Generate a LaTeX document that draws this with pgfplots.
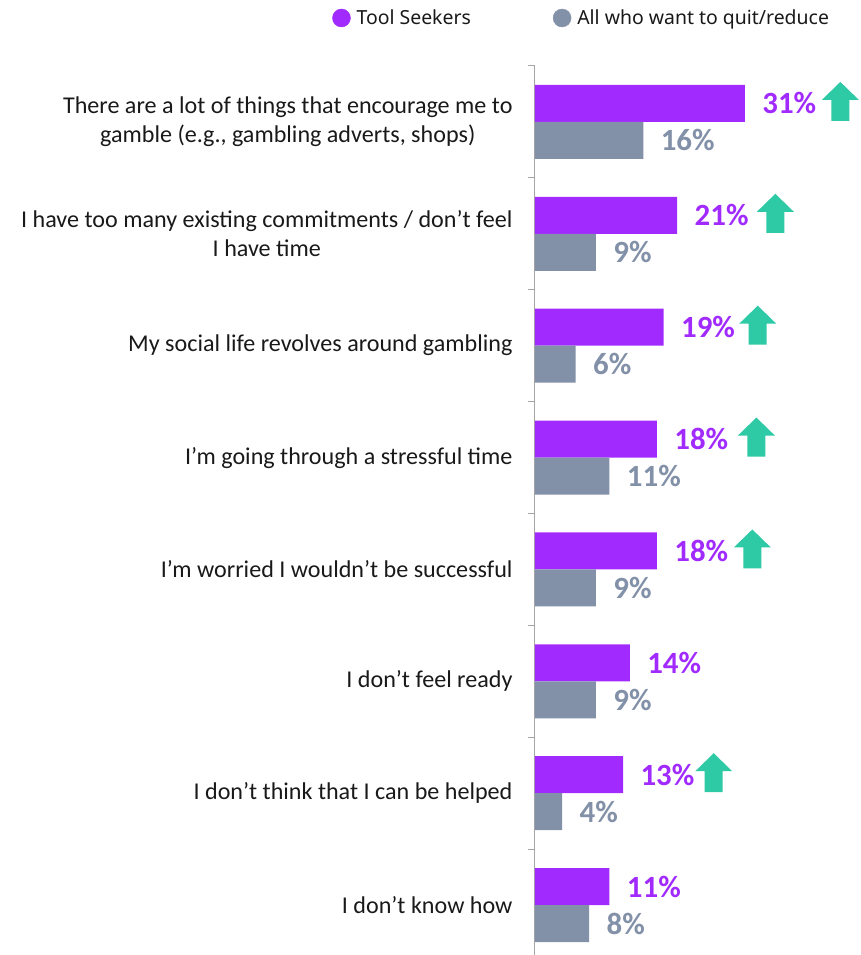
\documentclass[border=0pt]{standalone}
\usepackage{pgfplots}
\pgfplotsset{compat=1.18}
\usepackage{fontspec}
\setmainfont{Carlito}
\newfontfamily\legfont{Noto Sans}

\definecolor{seek}{HTML}{A12BFF}
\definecolor{allq}{HTML}{8290A8}
\definecolor{upg}{HTML}{2EC9A5}
\definecolor{axgray}{HTML}{A6A6A6}

% green "higher than" arrow, sits over the purple bar of a group
\pgfdeclareplotmark{uparrow}{%
  \pgfpathmoveto{\pgfqpoint{-9bp}{1bp}}%
  \pgfpathlineto{\pgfqpoint{9bp}{1bp}}%
  \pgfpathlineto{\pgfqpoint{9bp}{22bp}}%
  \pgfpathlineto{\pgfqpoint{18.5bp}{22bp}}%
  \pgfpathlineto{\pgfqpoint{0bp}{40bp}}%
  \pgfpathlineto{\pgfqpoint{-18.5bp}{22bp}}%
  \pgfpathlineto{\pgfqpoint{-9bp}{22bp}}%
  \pgfpathclose
  \pgfusepathqfill}

\begin{document}
\begin{tikzpicture}
\path[use as bounding box] (-535bp,0) rectangle (326bp,955bp);
\begin{axis}[
  scale only axis,
  width=326bp, height=889bp,
  xmin=0, xmax=48.15,
  ymin=-0.446, ymax=7.5,
  axis y line*=left, axis x line=none,
  axis line style={axgray, line width=1bp},
  ytick={0,...,7},
  yticklabels={
    I don't know how,
    I don't think that I can be helped,
    I don't feel ready,
    I'm worried I wouldn't be successful,
    I'm going through a stressful time,
    My social life revolves around gambling,
    {I have too many existing commitments / don't feel\\I have time},
    {There are a lot of things that encourage me to\\gamble (e.g., gambling adverts, shops)}},
  yticklabel style={align=center, font=\fontsize{24.2}{29}\selectfont, color=black!90, xshift=-19bp},
  major tick length=0pt,
  minor ytick={0.5,1.5,...,7.5},
  minor tick length=7bp,
  tick align=outside,
  tick style={axgray, line width=1bp},
  bar width=37bp,
  point meta=x,
  nodes near coords style={anchor=west, xshift=14bp, font=\bfseries\fontsize{31}{34}\selectfont},
  legend columns=2,
  legend style={draw=none, fill=none, at={(axis description cs:0.143,1.054)}, anchor=center,
    font=\legfont\fontsize{19.5}{23}\selectfont, text=black!90,
    /tikz/every odd column/.append style={column sep=4bp},
    /tikz/every even column/.append style={column sep=80bp}},
  clip=false,
]
\addplot[forget plot, xbar, fill=seek, draw=none, bar shift=18.5bp,
  nodes near coords={\pgfmathprintnumber[assume math mode=true]{\pgfplotspointmeta}\%},
  nodes near coords style={text=seek, yshift=18.5bp}]
  coordinates {(31,7) (21,6) (19,5) (18,4) (18,3) (14,2) (13,1) (11,0)};
\addplot[forget plot, xbar, fill=allq, draw=none, bar shift=-18.5bp,
  nodes near coords={\pgfmathprintnumber[assume math mode=true]{\pgfplotspointmeta}\%},
  nodes near coords style={text=allq, yshift=-18.5bp}]
  coordinates {(16,7) (9,6) (6,5) (11,4) (9,3) (9,2) (4,1) (8,0)};
\addplot[forget plot, only marks, mark=uparrow, upg]
  coordinates {(45.1,7) (35.5,6) (32.9,5) (32.7,4) (32.1,3) (26.4,1)};
\addlegendimage{legend image code/.code={\fill[seek] (0bp,0bp) circle (9bp);}}
\addlegendentry{Tool Seekers}
\addlegendimage{legend image code/.code={\fill[allq] (0bp,0bp) circle (9bp);}}
\addlegendentry{All who want to quit/reduce}
\end{axis}
\end{tikzpicture}
\end{document}
